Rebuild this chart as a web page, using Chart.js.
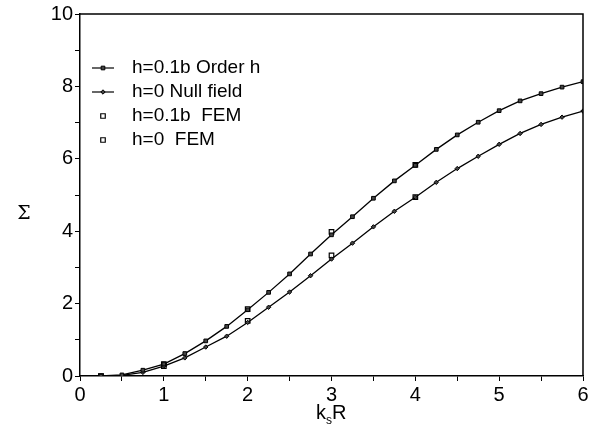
<!DOCTYPE html>
<html>
<head>
<meta charset="utf-8">
<script src="https://cdn.jsdelivr.net/npm/chart.js@4/dist/chart.umd.min.js"></script>
<style>
  html, body { margin: 0; padding: 0; background: #fff; }
  #box { width: 593px; height: 436px; }
</style>
</head>
<body>
<div id="box"><canvas id="grafico"></canvas></div>
<script>
// valores
const kR = [0.25, 0.5, 0.75, 1, 1.25, 1.5, 1.75, 2, 2.25, 2.5, 2.75, 3,
            3.25, 3.5, 3.75, 4, 4.25, 4.5, 4.75, 5, 5.25, 5.5, 5.75, 6];
const ordemH = [0, 0.03, 0.16, 0.33, 0.62, 0.97, 1.37, 1.83, 2.31, 2.82, 3.37, 3.9,
                4.4, 4.91, 5.39, 5.82, 6.26, 6.66, 7.01, 7.33, 7.6, 7.8, 7.98, 8.13];
const nullField = [0, 0.02, 0.1, 0.27, 0.5, 0.8, 1.1, 1.48, 1.9, 2.32, 2.77, 3.23,
                   3.67, 4.12, 4.55, 4.94, 5.35, 5.73, 6.07, 6.4, 6.7, 6.95, 7.15, 7.32];
const femX = [0.25, 1, 2, 3, 4];
const femH01 = [0, 0.33, 1.85, 3.98, 5.83];
const femH0 = [0, 0.27, 1.52, 3.33, 4.94];
const legendas = ['h=0.1b Order h', 'h=0 Null field', 'h=0.1b  FEM', 'h=0  FEM'];

const fonte = '"Liberation Sans", Arial, sans-serif';
const pares = (xs, ys) => xs.map((x, i) => ({ x: x, y: ys[i] }));

// legenda dentro do grafico + titulos dos eixos
const extras = {
  id: 'extras',
  afterDraw(chart) {
    const ctx = chart.ctx;
    ctx.save();
    ctx.strokeStyle = '#000';
    ctx.textBaseline = 'middle';
    chart.data.datasets.forEach((ds, i) => {
      const y = 68 + i * 24;
      if (ds.showLine !== false) {
        ctx.strokeStyle = '#000';
        ctx.lineWidth = 1.2;
        ctx.beginPath();
        ctx.moveTo(92, y);
        ctx.lineTo(114, y);
        ctx.stroke();
      }
      ctx.fillStyle = ds.pointBackgroundColor;
      ctx.strokeStyle = ds.pointBorderColor;
      ctx.lineWidth = ds.pointBorderWidth;
      Chart.helpers.drawPoint(ctx, {
        pointStyle: ds.pointStyle,
        radius: ds.pointRadius,
        borderWidth: ds.pointBorderWidth
      }, 103, y);
      ctx.fillStyle = '#000';
      ctx.font = '19px ' + fonte;
      ctx.textAlign = 'left';
      ctx.fillText(legendas[i], 132, y);
    });
    // titulo eixo y
    ctx.fillStyle = '#000';
    ctx.font = '19px "DejaVu Serif", serif';
    ctx.textAlign = 'center';
    ctx.fillText('\u03A3', 24, 214);
    // titulo eixo x: k_s R
    ctx.font = '20px ' + fonte;
    ctx.textAlign = 'left';
    const xc = 316;
    ctx.fillText('k', xc, 413);
    const wk = ctx.measureText('k').width;
    ctx.font = '12px ' + fonte;
    ctx.fillText('s', xc + wk, 421);
    const ws = ctx.measureText('s').width;
    ctx.font = '20px ' + fonte;
    ctx.fillText('R', xc + wk + ws, 413);
    ctx.restore();
  }
};

function criarGrafico() {
  const ctx = document.getElementById('grafico').getContext('2d');
  new Chart(ctx, {
    type: 'scatter',
    data: {
      datasets: [{
        data: pares(kR, ordemH),
        showLine: true,
        borderColor: '#000',
        borderWidth: 1.3,
        pointStyle: 'rect',
        pointRadius: 2.6,
        pointBorderWidth: 1,
        pointBackgroundColor: '#444',
        pointBorderColor: '#000'
      }, {
        data: pares(kR, nullField),
        showLine: true,
        borderColor: '#000',
        borderWidth: 1.3,
        pointStyle: 'rectRot',
        pointRadius: 2.2,
        pointBorderWidth: 1,
        pointBackgroundColor: '#444',
        pointBorderColor: '#000'
      }, {
        data: pares(femX, femH01),
        showLine: false,
        pointStyle: 'rect',
        pointRadius: 3.2,
        pointBorderWidth: 1.2,
        pointBackgroundColor: '#fff',
        pointBorderColor: '#000'
      }, {
        data: pares(femX, femH0),
        showLine: false,
        pointStyle: 'rect',
        pointRadius: 3.2,
        pointBorderWidth: 1.2,
        pointBackgroundColor: '#fff',
        pointBorderColor: '#000'
      }]
    },
    options: {
      responsive: true,
      maintainAspectRatio: false,
      animation: false,
      layout: { padding: { top: 14, right: 10, left: 0, bottom: 0 } },
      plugins: { legend: { display: false }, tooltip: { enabled: false } },
      scales: {
        x: {
          type: 'linear', min: 0, max: 6,
          border: { color: '#000', width: 1.5 },
          grid: { drawOnChartArea: false, color: '#000', tickLength: 5 },
          ticks: {
            stepSize: 0.5, color: '#000', padding: 2,
            font: { family: fonte, size: 20 },
            callback: v => Number.isInteger(v) ? v : ''
          },
          afterFit: s => { s.height = 60; }
        },
        y: {
          min: 0, max: 10,
          border: { color: '#000', width: 1.5 },
          grid: { drawOnChartArea: false, color: '#000', tickLength: 5 },
          ticks: {
            stepSize: 1, color: '#000', padding: 2,
            font: { family: fonte, size: 20 },
            callback: v => v % 2 === 0 ? v : ''
          },
          afterFit: s => { s.width = 80; }
        }
      }
    },
    plugins: [{
      id: 'moldura',
      afterDatasetsDraw(chart) {
        const a = chart.chartArea, c = chart.ctx;
        c.save();
        c.strokeStyle = '#000';
        c.lineWidth = 1.5;
        c.beginPath();
        c.moveTo(a.left, a.top);
        c.lineTo(a.right, a.top);
        c.lineTo(a.right, a.bottom);
        c.stroke();
        c.restore();
      }
    }, extras]
  });
}

document.addEventListener('DOMContentLoaded', criarGrafico);
</script>
</body>
</html>
